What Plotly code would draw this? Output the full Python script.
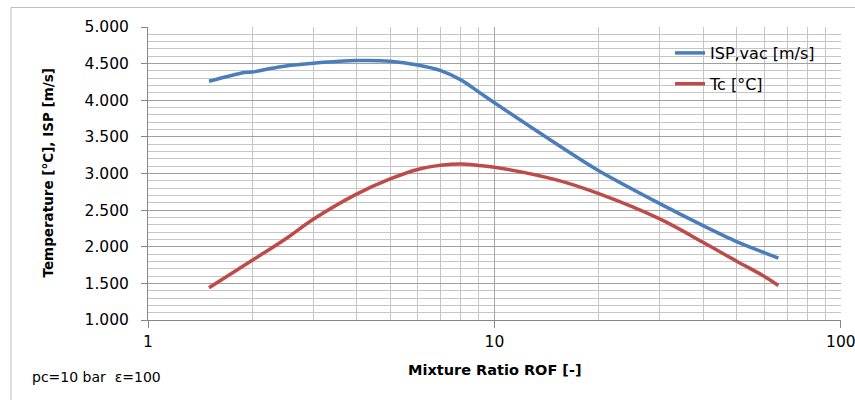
import plotly.graph_objects as go

# Data
rof_isp = [1.5, 1.9, 2.0, 2.2, 2.5, 3, 4, 5, 6, 7, 8, 9, 10, 15, 20, 30, 40, 50, 60, 66]
isp_vac = [4260, 4380, 4385, 4424, 4469, 4505, 4541, 4533, 4482, 4405, 4278, 4114, 3965,
           3413, 3038, 2589, 2289, 2071, 1921, 1844]

rof_tc = [1.5, 2, 2.5, 3, 4, 5, 6, 7, 8, 9, 10, 15, 20, 30, 40, 50, 60, 66]
tc = [1440, 1815, 2110, 2375, 2718, 2925, 3055, 3112, 3130, 3110, 3086, 2916, 2725,
      2380, 2061, 1803, 1598, 1471]

x_ticks = [1, 10, 100]
x_tick_labels = ["1", "10", "100"]
y_ticks = [1000, 1500, 2000, 2500, 3000, 3500, 4000, 4500, 5000]

series_names = ["ISP,vac [m/s]", "Tc [°C]"]
colors = ["#4A7EBB", "#BE4B48"]

FONT = "DejaVu Sans"
W, H = 855, 400
ML, MR, MT, MB = 148, 14, 27, 80
PW, PH = W - ML - MR, H - MT - MB


def px_x(p):
    return (p - ML) / PW


def px_y(p):
    return 1 - (p - MT) / PH


fig = go.Figure()
fig.add_trace(go.Scatter(x=rof_isp, y=isp_vac, mode="lines", name=series_names[0],
                         line=dict(color=colors[0], width=3.5, shape="spline", smoothing=0.9),
                         legendgroup="a"))
fig.add_trace(go.Scatter(x=rof_tc, y=tc, mode="lines", name=series_names[1],
                         line=dict(color=colors[1], width=3.5, shape="spline", smoothing=0.9),
                         legendgroup="b"))

fig.update_layout(
    width=W, height=H,
    margin=dict(l=ML, r=MR, t=MT, b=MB, autoexpand=False),
    paper_bgcolor="white", plot_bgcolor="white",
    separators=",.",
    font=dict(family=FONT, size=15, color="#000000"),
    showlegend=True,
    legend=dict(x=px_x(670), y=px_y(36), xanchor="left", yanchor="top",
                bgcolor="rgba(255,255,255,0)", borderwidth=0,
                font=dict(family=FONT, size=16, color="#000000"),
                tracegroupgap=7),
    xaxis=dict(type="log", range=[0, 2.0003], tickvals=x_ticks, ticktext=x_tick_labels,
               ticklabeloverflow="allow",
               showgrid=True, gridcolor="#a6a6a6", gridwidth=1,
               showline=True, linecolor="#868686", linewidth=1,
               ticks="outside", ticklen=7, tickcolor="#868686",
               tickfont=dict(family=FONT, size=15.5),
               minor=dict(dtick="D1", showgrid=True, gridcolor="#c6c6c6", gridwidth=1, ticks=""),
               zeroline=False, fixedrange=True),
    yaxis=dict(range=[1000, 5000], tickvals=y_ticks, tickformat=",d",
               showgrid=True, gridcolor="#a0a0a0", gridwidth=1,
               showline=True, linecolor="#868686", linewidth=1,
               ticks="outside", ticklen=6, tickcolor="#868686",
               ticklabelstandoff=9,
               tickfont=dict(family=FONT, size=15.5),
               minor=dict(dtick=100, showgrid=True, gridcolor="#c6c6c6", gridwidth=1, ticks=""),
               zeroline=False, fixedrange=True),
    shapes=[
        dict(type="rect", xref="paper", yref="paper",
             x0=px_x(655), x1=px_x(830), y0=px_y(100), y1=px_y(34),
             fillcolor="white", line=dict(width=0), layer="between"),
        dict(type="rect", xref="paper", yref="paper",
             x0=px_x(11), x1=px_x(870), y0=px_y(420), y1=px_y(7.5),
             fillcolor="rgba(0,0,0,0)", line=dict(color="#bfbfbf", width=1), layer="above"),
    ],
    annotations=[
        dict(text="<b>Mixture Ratio ROF [-]</b>", xref="paper", yref="paper",
             x=0.5, y=px_y(370), xanchor="center", yanchor="middle", showarrow=False,
             font=dict(family=FONT, size=14.5, color="#000000")),
        dict(text="<b>Temperature [°C], ISP [m/s]</b>", xref="paper", yref="paper",
             x=px_x(47), y=0.5, xanchor="center", yanchor="middle", showarrow=False,
             textangle=-90, font=dict(family=FONT, size=13.5, color="#000000")),
        dict(text="pc=10 bar  ε=100", xref="paper", yref="paper",
             x=px_x(30), y=px_y(377), xanchor="left", yanchor="middle", showarrow=False,
             font=dict(family=FONT, size=14, color="#000000")),
    ],
)

fig.write_html("out.html")
